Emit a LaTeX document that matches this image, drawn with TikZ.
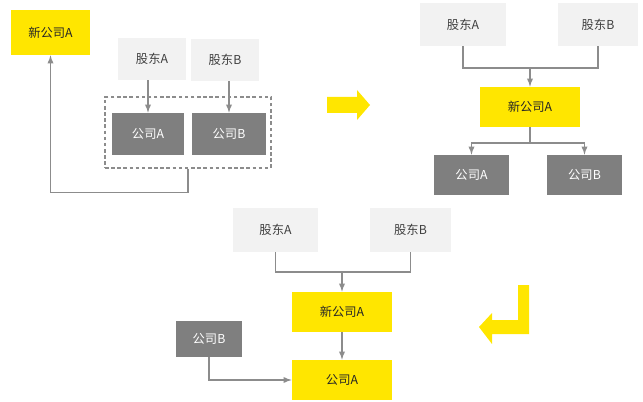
\documentclass[tikz,border=0pt]{standalone}
\usepackage{fontspec}
\setmainfont{Noto Sans CJK SC}
\usepackage{tikz}
\usetikzlibrary{arrows}

\definecolor{hiyellow}{HTML}{FFE600}
\definecolor{lightbox}{HTML}{F2F2F2}
\definecolor{darkbox}{HTML}{7F7F7F}
\definecolor{linegray}{HTML}{8C8C8C}

\tikzset{
  sz/.style 2 args={minimum width=#1*0.02cm, minimum height=#2*0.02cm},
  newco/.style={fill=hiyellow, text=black!85},
  holder/.style={fill=lightbox, text=black!75},
  oldco/.style={fill=darkbox, text=white},
  conn/.style={draw=linegray, line width=0.6pt},
  bigarrow/.style={fill=hiyellow, draw=none}
}

\begin{document}
\begin{tikzpicture}[x=0.02cm, y=-0.02cm, >=latex,
  every node/.style={rectangle, inner sep=0pt, font=\fontsize{7}{8}\selectfont}]
\useasboundingbox (0,0) rectangle (643,402);

% before
\node (nA1)[newco, sz={79}{45}] at (50.5,32.5) {新公司A};
\node (sA1)[holder, sz={68}{42}] at (152,59) {股东A};
\node (sB1)[holder, sz={68}{42}] at (225,60) {股东B};
\node (grp1)[draw=linegray, dash pattern=on 2pt off 1.5pt, line width=0.6pt, sz={166}{71}] at (188,132.5) {};
\node (cA1)[oldco, sz={72}{42}] at (148,134) {公司A};
\node (cB1)[oldco, sz={74}{42}] at (229,134) {公司B};

\draw[conn, ->] (cA1.north |- sA1.south) to (cA1.north);
\draw[conn, ->] (cB1.north |- sB1.south) to (cB1.north);
\draw[conn, ->] (grp1.south) -- ++(0,24) -| (nA1.south);

\filldraw[bigarrow] (327,97) -- (357,97) -- (357,90) -- (370,105) -- (357,120) -- (357,113) -- (327,113) -- cycle;

% step 1
\node (sA2)[holder, sz={86}{43}] at (463,24.5) {股东A};
\node (sB2)[holder, sz={80}{43}] at (598,24.5) {股东B};
\node (nA2)[newco, sz={100}{40}] at (530,107) {新公司A};
\node (cA2)[oldco, sz={75}{40}] at (471.5,175) {公司A};
\node (cB2)[oldco, sz={75}{40}] at (584.5,175) {公司B};
\coordinate (j2) at (530,68);
\coordinate (k2) at (530,143);

\draw[conn] (sA2.south) |- (j2) -| (sB2.south);
\draw[conn, ->] (j2) to (nA2.north);
\draw[conn] (nA2.south) to (k2);
\draw[conn, ->] (k2) -| (cA2.north);
\draw[conn, ->] (k2) -| (cB2.north);

\filldraw[bigarrow] (518,285) -- (529,285) -- (529,334) -- (492,334) -- (492,344) -- (479,327) -- (492,313) -- (492,320) -- (518,320) -- cycle;

% step 2
\node (sA3)[holder, sz={85}{44}] at (275.5,230) {股东A};
\node (sB3)[holder, sz={81}{44}] at (410.5,230) {股东B};
\node (nA3)[newco, sz={100}{40}] at (342,312) {新公司A};
\node (cA3)[newco, sz={100}{40}] at (342,380) {公司A};
\node (cB3)[oldco, sz={66}{36}] at (209,339) {公司B};
\coordinate (j3) at (342,272);

\draw[conn] (sA3.south) |- (j3) -| (sB3.south);
\draw[conn, ->] (j3) to (nA3.north);
\draw[conn, ->] (nA3.south) to (cA3.north);
\draw[conn, ->] (cB3.south) |- (cA3.west);
\end{tikzpicture}
\end{document}
